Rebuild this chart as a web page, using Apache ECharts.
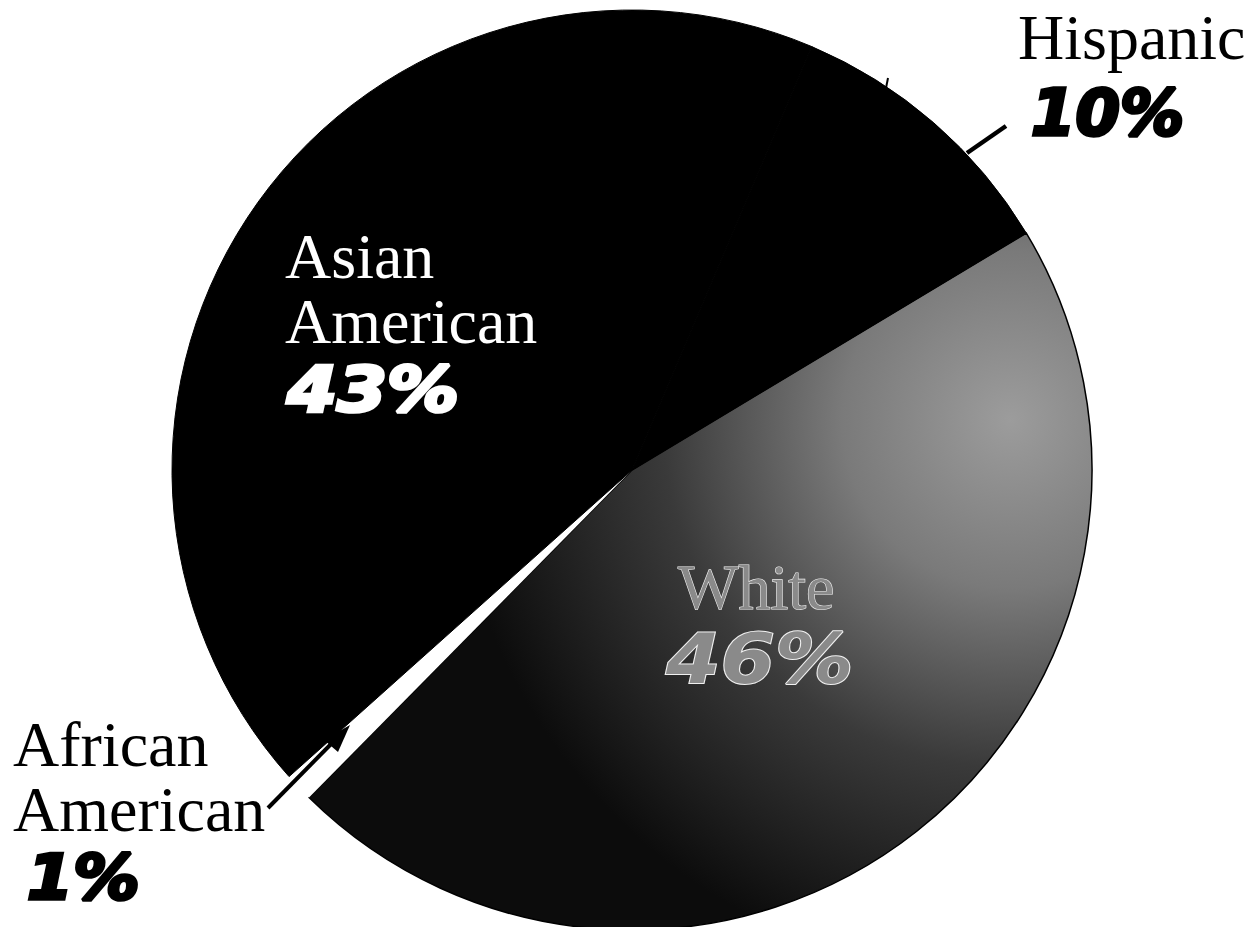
<!DOCTYPE html>
<html>
<head>
<meta charset="utf-8">
<script src="https://cdn.jsdelivr.net/npm/echarts@6/dist/echarts.min.js"></script>
<style>
  html, body { margin: 0; padding: 0; background: #ffffff; }
  #chart { width: 1256px; height: 927px; }
</style>
</head>
<body>
<div id="chart"></div>
<script>
// Student body by group, percent of total (clockwise from the White slice)
const groups = ['White', 'African American', 'Asian American', 'Hispanic'];
const shares = [46, 1, 43, 10];

const serif = '"Liberation Serif", "Times New Roman", serif';
const heavy = '"DejaVu Sans", sans-serif';

// Slice fills
const sliceStyle = {
  'White': {
    color: {
      type: 'radial', x: 1010, y: 420, r: 560, global: true,
      colorStops: [
        { offset: 0, color: '#9c9c9c' },
        { offset: 0.3, color: '#7a7a7a' },
        { offset: 0.62, color: '#3a3a3a' },
        { offset: 1, color: '#0c0c0c' }
      ]
    },
    borderColor: '#000', borderWidth: 1.5
  },
  'African American': { color: '#ffffff', borderWidth: 0 },
  'Asian American': { color: '#000000', borderColor: '#000000', borderWidth: 1 },
  'Hispanic': { color: '#000000', borderColor: '#000000', borderWidth: 1 }
};

// Label placement and colours for each group
const labelSpec = {
  'Hispanic': { x: 1018, y: 4.5, px: 1031, py: 80.7, size: 64, wide: 1.0, fill: '#000', stroke: '#000' },
  'Asian American': { x: 285, y: 223.5, px: 287, py: 357.6, size: 63, wide: 1.14, fill: '#fff', stroke: '#fff' },
  'White': { x: 678, y: 554.5, px: 666, py: 624.4, size: 70, wide: 1.12, fill: '#8a8a8a', stroke: '#f0f0f0', emboss: true },
  'African American': { x: 13, y: 711.5, px: 27, py: 846.4, size: 62, wide: 1.07, fill: '#000', stroke: '#000' }
};

const share = {};
groups.forEach((g, i) => { share[g] = shares[i]; });

const labelGraphics = [];
groups.forEach(g => {
  const s = labelSpec[g];
  labelGraphics.push({
    type: 'text', x: s.x, y: s.y, z: 100, silent: true,
    style: {
      text: g.split(' ').join('\n'),
      font: '64px ' + serif, lineHeight: 65,
      fill: s.fill,
      stroke: s.emboss ? s.stroke : null, lineWidth: s.emboss ? 1.2 : 0,
      align: 'left', verticalAlign: 'top'
    }
  });
  labelGraphics.push({
    type: 'text', x: s.px, y: s.py, z: 100, silent: true,
    scaleX: s.wide,
    style: {
      text: share[g] + '%',
      font: 'italic bold ' + s.size + 'px ' + heavy,
      lineHeight: s.size,
      fill: s.fill,
      stroke: s.stroke, lineWidth: s.emboss ? 2 : 3.5,
      align: 'left', verticalAlign: 'top'
    }
  });
});

// Leader lines
const leaderGraphics = [
  { type: 'line', z: 100, silent: true, shape: { x1: 967, y1: 153, x2: 1006, y2: 126 }, style: { stroke: '#000', lineWidth: 4.5 } },
  { type: 'line', z: 100, silent: true, shape: { x1: 886, y1: 88, x2: 888, y2: 78 }, style: { stroke: '#000', lineWidth: 2 } },
  { type: 'line', z: 100, silent: true, shape: { x1: 268, y1: 808, x2: 336, y2: 739 }, style: { stroke: '#000', lineWidth: 4 } },
  { type: 'polygon', z: 100, silent: true, shape: { points: [[350, 725], [324, 740], [338, 752]] }, style: { fill: '#000' } }
];

const chart = echarts.init(document.getElementById('chart'), null, { renderer: 'svg' });
chart.setOption({
  backgroundColor: '#ffffff',
  animation: false,
  series: [{
    type: 'pie',
    center: [632, 470],
    radius: 460,
    startAngle: 31,
    clockwise: true,
    silent: true,
    label: { show: false },
    labelLine: { show: false },
    data: groups.map((g, i) => ({ name: g, value: shares[i], itemStyle: sliceStyle[g] }))
  }],
  graphic: leaderGraphics.concat(labelGraphics)
});
</script>
</body>
</html>
